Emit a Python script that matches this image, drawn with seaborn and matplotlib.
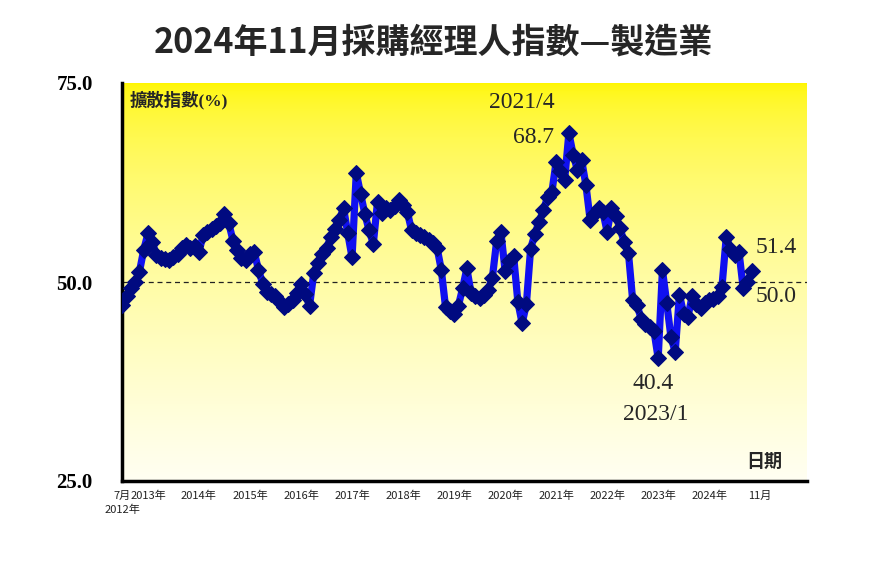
import numpy as np
import pandas as pd
import matplotlib
matplotlib.use("Agg")
import matplotlib.pyplot as plt
import seaborn as sns

# ---- data (Taiwan manufacturing PMI, Jul 2012 - Nov 2024) ----
pmi_2012 = [47.1, 48.3, 49.2, 50.0, 51.3, 54.0]
pmi_2013 = [56.1, 55.0, 53.4, 53.0, 52.9, 52.8, 53.2, 53.5, 54.3, 54.6, 54.3, 54.5]
pmi_2014 = [53.8, 55.9, 56.3, 56.7, 57.0, 57.4, 58.5, 57.4, 55.2, 54.0, 53.0, 52.8]
pmi_2015 = [53.5, 53.8, 51.5, 49.8, 48.8, 48.5, 48.2, 47.5, 46.8, 47.2, 47.7, 48.6]
pmi_2016 = [49.8, 48.5, 47.0, 51.1, 52.4, 53.5, 54.3, 55.6, 56.7, 57.8, 59.3, 56.1]
pmi_2017 = [53.1, 63.7, 61.1, 58.6, 56.5, 54.8, 60.1, 58.7, 59.3, 59.0, 59.6, 60.3]
pmi_2018 = [59.7, 58.8, 56.5, 56.2, 55.9, 55.6, 55.3, 54.9, 54.3, 51.5, 46.8, 46.3]
pmi_2019 = [46.0, 47.0, 49.2, 51.7, 48.6, 48.2, 48.0, 48.4, 49.0, 50.5, 55.1, 56.3]
pmi_2020 = [51.4, 52.7, 53.3, 47.5, 44.8, 47.2, 54.2, 56.0, 57.6, 59.0, 60.7, 61.3]
pmi_2021 = [65.1, 63.9, 62.8, 68.7, 66.0, 64.1, 65.3, 62.2, 57.8, 58.6, 59.3, 58.8]
pmi_2022 = [56.3, 59.3, 58.3, 56.8, 55.0, 53.7, 47.7, 47.1, 45.4, 44.7, 44.3, 43.9]
pmi_2023 = [40.4, 51.5, 47.4, 43.1, 41.2, 48.4, 46.0, 45.6, 48.3, 47.2, 46.7, 47.3]
pmi_2024 = [47.7, 47.9, 48.2, 49.4, 55.6, 54.2, 53.4, 53.8, 49.2, 50.0, 51.4]

pmi = (pmi_2012 + pmi_2013 + pmi_2014 + pmi_2015 + pmi_2016 + pmi_2017 +
       pmi_2018 + pmi_2019 + pmi_2020 + pmi_2021 + pmi_2022 + pmi_2023 + pmi_2024)

tick_pos = list(range(0, 157, 6))
tick_text = {0: "7月", 150: "11月"}
for k, yr in enumerate(range(2013, 2025)):
    tick_text[6 + 12 * k] = f"{yr}年"
tick_labels = [tick_text.get(p, "") for p in tick_pos]
first_year_label = "2012年"

title = "2024年11月採購經理人指數—製造業"
ylabel = "擴散指數(%)"
xlabel = "日期"

df = pd.DataFrame({"idx": np.arange(len(pmi)), "pmi": pmi})

# ---- style ----
sns.set_theme(style="white")
plt.rcParams["font.family"] = ["Noto Sans CJK TC", "DejaVu Sans"]
tick_family = ["Liberation Sans Narrow", "Noto Sans CJK TC"]

fig = plt.figure(figsize=(8.7, 5.7), dpi=100)
ax = fig.add_axes([122 / 870, 1 - 481 / 570, 685 / 870, 398 / 570])

x0, x1 = -0.1, 161
ax.set_xlim(x0, x1)
ax.set_ylim(25, 75)

# gradient background (yellow top -> near white bottom)
t = np.linspace(0, 1, 300)[:, None]
tt = t ** 0.55
top = np.array([255, 246, 0]) / 255
bot = np.array([255, 255, 242]) / 255
img = (top * (1 - tt) + bot * tt)[:, None, :]
ax.imshow(img, extent=[x0, x1, 25, 75], aspect="auto", origin="upper", zorder=0)

ax.axhline(50, color="#222222", lw=0.9, ls=(0, (4, 3)), zorder=2)

sns.lineplot(data=df, x="idx", y="pmi", ax=ax, color="#1010f0", linewidth=5.2,
             marker="D", markersize=8, markerfacecolor="#000a80",
             markeredgecolor="#000a80", zorder=3)

# spines
for s in ["top", "right"]:
    ax.spines[s].set_visible(False)
for s in ["left", "bottom"]:
    ax.spines[s].set_color("black")
    ax.spines[s].set_linewidth(2.5)

ax.set_yticks([25, 50, 75])
ax.set_yticklabels(["25.0", "50.0", "75.0"], fontfamily="Liberation Serif",
                   fontweight="bold", fontsize=15)
ax.tick_params(axis="y", direction="out", length=5, width=2, pad=16, colors="black")

ax.set_xticks(tick_pos)
ax.set_xticklabels(tick_labels, fontsize=8, fontfamily=tick_family)
ax.tick_params(axis="x", direction="out", length=5, width=2, pad=2, colors="black")
for lbl in ax.get_xticklabels():
    lbl.set_color("#222222")
ax.set_xlabel("")
ax.set_ylabel("")
ax.grid(False)

# second-row label under the first tick
ax.annotate(first_year_label, xy=(0, 0), xycoords=("data", "axes fraction"),
            xytext=(0, -29), textcoords="offset pixels", ha="center", va="center",
            fontsize=8, family=tick_family, color="#222222")

serif = "Liberation Serif"
ax.text(94, 72.5, "2021/4", family=serif, fontsize=17, ha="center", va="center", zorder=4)
ax.text(96.6, 68.1, "68.7", family=serif, fontsize=17, ha="center", va="center", zorder=4)
ax.text(124.8, 37.3, "40.4", family=serif, fontsize=17, ha="center", va="center", zorder=4)
ax.text(125.5, 33.4, "2023/1", family=serif, fontsize=17, ha="center", va="center", zorder=4)
ax.text(153.7, 54.3, "51.4", family=serif, fontsize=17, ha="center", va="center", zorder=4)
ax.text(153.7, 48.2, "50.0", family=serif, fontsize=17, ha="center", va="center", zorder=4)

ax.text(0.0117, 0.957, ylabel, transform=ax.transAxes, ha="left", va="center",
        fontsize=12.5, fontweight="bold", family=["Liberation Serif", "Noto Sans CJK TC"])
ax.text(0.937, 0.048, xlabel, transform=ax.transAxes, ha="center", va="center",
        fontsize=13, fontweight="bold", family=["Noto Sans CJK TC"])

fig.text(0.498, 0.926, title, ha="center", va="center", fontsize=24.5,
         fontweight="bold", family=["Noto Sans CJK TC"])

fig.savefig("out.png", dpi=100, facecolor="white")
